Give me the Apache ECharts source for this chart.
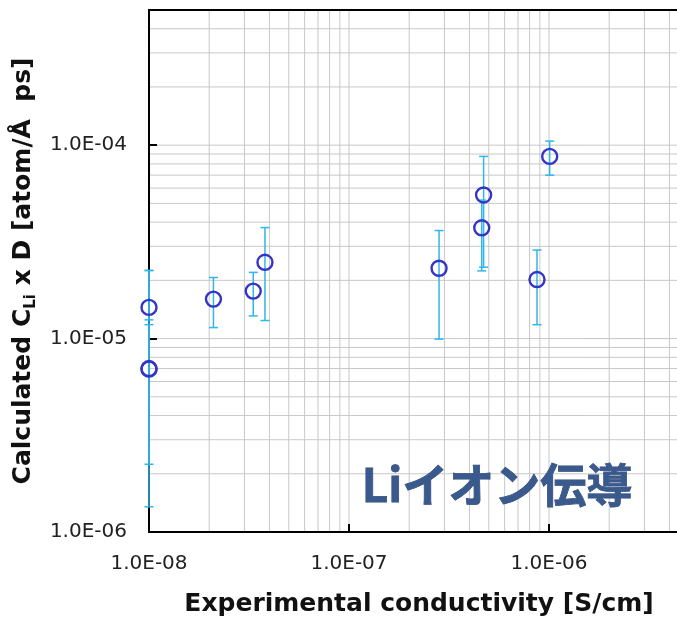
<!DOCTYPE html>
<html><head><meta charset="utf-8">
<script src="https://cdn.jsdelivr.net/npm/echarts@6/dist/echarts.min.js"></script>
<style>html,body{margin:0;padding:0;background:#fff}#c{width:677px;height:620px}</style>
</head><body><div id="c"></div>
<script>
// Experimental conductivity [S/cm]
const xValues  = [1.0e-8, 1.0e-8, 1.0e-8, 2.10e-8, 3.32e-8, 3.80e-8, 2.82e-7, 4.61e-7, 4.71e-7, 8.71e-7, 1.008e-6];
// Calculated C_Li x D
const yValues  = [1.45e-5, 7.0e-6, 6.95e-6, 1.60e-5, 1.76e-5, 2.48e-5, 2.31e-5, 3.74e-5, 5.53e-5, 2.02e-5, 8.75e-5];
const yErrLow  = [1.25e-5, 2.24e-6, 1.35e-6, 1.14e-5, 1.31e-5, 1.24e-5, 9.94e-6, 2.24e-5, 2.34e-5, 1.18e-5, 7.0e-5];
const yErrHigh = [2.25e-5, 1.18e-5, 2.25e-5, 2.07e-5, 2.20e-5, 3.75e-5, 3.62e-5, 5.2e-5, 8.75e-5, 2.87e-5, 1.05e-4];
const xTicks = [1e-8, 1e-7, 1e-6];
const yTicks = [1e-6, 1e-5, 1e-4];
const xRange = [1e-8, 1e-5];
const yRange = [1e-6, 5e-4];

function gridValues(lo, hi) {
  const out = [];
  for (let e = Math.floor(Math.log10(lo)); e <= Math.ceil(Math.log10(hi)); e++) {
    for (let k = 1; k <= 9; k++) {
      const v = k * Math.pow(10, e);
      if (v > lo * 1.0001 && v < hi * 0.9999) out.push(v);
    }
  }
  return out;
}
const xGrid = gridValues(xRange[0], xRange[1]);
const yGrid = gridValues(yRange[0], yRange[1]);

function fmt(v) {
  const e = Math.log10(v);
  if (Math.abs(e - Math.round(e)) > 1e-6) return '';
  const n = Math.round(e);
  return '1.0E' + (n < 0 ? '-' : '+') + String(Math.abs(n)).padStart(2, '0');
}

const points = xValues.map((x, i) => [x, yValues[i]]);
const errs = xValues.map((x, i) => [x, yErrLow[i], yErrHigh[i]]);
const gridData = xGrid.map(v => [v, yRange[0], 0]).concat(yGrid.map(v => [xRange[0], v, 1]));

const chart = echarts.init(document.getElementById('c'), null, {renderer: 'canvas'});
const labelFont = {fontFamily: 'DejaVu Sans', fontSize: 20, color: '#222'};
chart.setOption({
  animation: false,
  backgroundColor: '#fff',
  grid: {left: 149, top: 10, height: 522, width: 600, containLabel: false, outerBoundsMode: 'none'},
  xAxis: [{
    type: 'log', logBase: 10, min: xRange[0], max: xRange[1],
    axisLine: {show: true, lineStyle: {color: '#000', width: 2}},
    axisTick: {show: true, inside: true, length: 8, lineStyle: {color: '#000', width: 2}},
    axisLabel: Object.assign({margin: 22, formatter: fmt}, labelFont),
    splitLine: {show: false}, minorTick: {show: false}, minorSplitLine: {show: false}
  }, {
    type: 'log', logBase: 10, min: xRange[0], max: xRange[1], position: 'top',
    axisLine: {show: true, lineStyle: {color: '#000', width: 2}},
    axisTick: {show: false}, axisLabel: {show: false}, splitLine: {show: false}
  }],
  yAxis: {
    type: 'log', logBase: 10, min: yRange[0], max: yRange[1],
    axisLine: {show: true, lineStyle: {color: '#000', width: 2}},
    axisTick: {show: true, inside: true, length: 8, lineStyle: {color: '#000', width: 2}},
    axisLabel: Object.assign({margin: 22, formatter: fmt}, labelFont),
    splitLine: {show: false}, minorTick: {show: false},
    name: '{a|Calculated C}{s|Li}{a| x D [atom/Å  ps]}',
    nameLocation: 'middle', nameRotate: 90, nameGap: 106,
    nameTextStyle: {
      rich: {
        a: {fontFamily: 'DejaVu Sans', fontWeight: 'bold', fontSize: 25, color: '#111', lineHeight: 30},
        s: {fontFamily: 'DejaVu Sans', fontWeight: 'bold', fontSize: 15, color: '#111', lineHeight: 17, verticalAlign: 'bottom'}
      }
    }
  },
  graphic: [{
    type: 'text', x: 419, y: 604, z: 10,
    style: {text: 'Experimental conductivity [S/cm]', align: 'center', verticalAlign: 'middle',
      font: 'bold 25px "DejaVu Sans"', fill: '#111'}
  }, {
    type: 'text', x: 497, y: 485, z: 10,
    style: {text: 'Liイオン伝導', align: 'center', verticalAlign: 'middle',
      font: 'bold 46px "Noto Sans CJK JP"', fill: '#3a5a8e',
      stroke: '#2c4775', lineWidth: 0.8}
  }],
  series: [{
    type: 'custom', data: gridData, clip: false, z: 0, silent: true,
    renderItem: function (params, api) {
      const horiz = api.value(2) === 1;
      let p1, p2;
      if (horiz) {
        p1 = api.coord([xRange[0], api.value(1)]);
        p2 = api.coord([xRange[1], api.value(1)]);
      } else {
        p1 = api.coord([api.value(0), yRange[0]]);
        p2 = api.coord([api.value(0), yRange[1]]);
      }
      return {type: 'line', shape: {x1: p1[0], y1: p1[1], x2: p2[0], y2: p2[1]},
        style: {stroke: '#c8c8c8', lineWidth: 1}};
    }
  }, {
    type: 'custom', data: errs, clip: false, z: 3, silent: true,
    renderItem: function (params, api) {
      const x = api.value(0);
      const lo = api.coord([x, api.value(1)]);
      const hi = api.coord([x, api.value(2)]);
      const w = 4.5;
      const st = {stroke: '#2fb6ea', lineWidth: 1.5};
      return {type: 'group', children: [
        {type: 'line', shape: {x1: lo[0], y1: lo[1], x2: hi[0], y2: hi[1]}, style: st},
        {type: 'line', shape: {x1: lo[0] - w, y1: lo[1], x2: lo[0] + w, y2: lo[1]}, style: st},
        {type: 'line', shape: {x1: hi[0] - w, y1: hi[1], x2: hi[0] + w, y2: hi[1]}, style: st}
      ]};
    }
  }, {
    type: 'scatter', data: points, clip: false, z: 4,
    symbol: 'circle', symbolSize: 15,
    itemStyle: {color: 'rgba(0,0,0,0)', borderColor: '#3434c6', borderWidth: 2.4, opacity: 1}
  }]
});
</script>
</body></html>
